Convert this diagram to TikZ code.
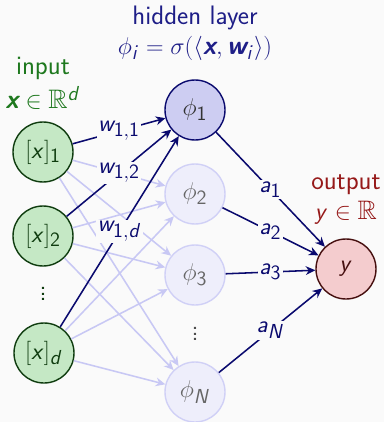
\documentclass[tikz,border=0pt]{standalone}
\usepackage{amssymb}
\usetikzlibrary{arrows.meta}

% sans-serif math letters and digits
\DeclareSymbolFont{sfletters}{OT1}{cmss}{m}{sl}
\DeclareSymbolFont{sfdigits}{OT1}{cmss}{m}{n}
\DeclareMathSymbol{a}{\mathalpha}{sfletters}{`a}
\DeclareMathSymbol{d}{\mathalpha}{sfletters}{`d}
\DeclareMathSymbol{i}{\mathalpha}{sfletters}{`i}
\DeclareMathSymbol{w}{\mathalpha}{sfletters}{`w}
\DeclareMathSymbol{x}{\mathalpha}{sfletters}{`x}
\DeclareMathSymbol{y}{\mathalpha}{sfletters}{`y}
\DeclareMathSymbol{N}{\mathalpha}{sfletters}{`N}
\DeclareMathSymbol{1}{\mathalpha}{sfdigits}{`1}
\DeclareMathSymbol{2}{\mathalpha}{sfdigits}{`2}
\DeclareMathSymbol{3}{\mathalpha}{sfdigits}{`3}

\definecolor{bgcol}{RGB}{250,250,250}
\definecolor{navy}{RGB}{10,10,110}
\definecolor{layernavy}{RGB}{30,30,135}
\definecolor{infill}{RGB}{197,232,197}
\definecolor{indraw}{RGB}{15,60,15}
\definecolor{intext}{RGB}{30,120,30}
\definecolor{phifill}{RGB}{205,205,242}
\definecolor{faintfill}{RGB}{238,238,251}
\definecolor{faintdraw}{RGB}{208,208,246}
\definecolor{faintedge}{RGB}{200,200,244}
\definecolor{outfill}{RGB}{244,204,206}
\definecolor{outdraw}{RGB}{70,15,15}
\definecolor{outtext}{RGB}{150,25,25}

\newcommand{\bvec}[1]{\mbox{\bfseries\itshape #1}}

\begin{document}
\begin{tikzpicture}[
    x=0.25mm, y=-0.25mm,
    font=\fontsize{19}{22}\selectfont\sffamily,
    neuron/.style={
        circle, minimum size=15mm, inner sep=0pt, line width=1pt
    },
    innode/.style={neuron, draw=indraw, fill=infill, text=indraw},
    phinode/.style={neuron, draw=navy, fill=phifill, text=black!80},
    faintnode/.style={neuron, draw=faintdraw, fill=faintfill, text=black!60},
    outnode/.style={neuron, draw=outdraw, fill=outfill, text=outdraw},
    strong/.style={
        draw=navy, line width=1.1pt,
        -{Stealth[length=2.4mm, width=2.2mm]}
    },
    faint/.style={
        draw=faintedge, line width=1.1pt,
        -{Stealth[length=2.4mm, width=2.2mm]}
    },
    weight/.style={midway, fill=bgcol, inner sep=1pt, text=navy}
]

    % Canvas ===========================
    \fill[bgcol] (0,0) rectangle (384,422);
    \useasboundingbox (0,0) rectangle (384,422);

    % Titles ===========================
    \node[text=layernavy] (hidtitle) at (195,18) {hidden layer};
    \node[text=layernavy] (hidrule) at (195,48) {$\phi_i = \sigma(\langle \bvec{x}, \bvec{w}_i \rangle)$};
    \node[text=intext] (intitle) at (43,68) {input};
    \node[text=intext] (inspace) at (43,98) {$\bvec{x} \in \mathbb{R}^d$};
    \node[text=outtext] (outtitle) at (346,185) {output};
    \node[text=outtext] (outspace) at (346,213) {$y \in \mathbb{R}$};

    % Neurons ===========================
    \node[innode] (x1) at (43,152) {$[x]_1$};
    \node[innode] (x2) at (43,236) {$[x]_2$};
    \node[text=indraw] (xdots) at (43,290) {$\vdots$};
    \node[innode] (xd) at (44,353) {$[x]_d$};

    \node[phinode] (phi1) at (195,110) {$\phi_1$};
    \node[faintnode] (phi2) at (195,194) {$\phi_2$};
    \node[faintnode] (phi3) at (195,275) {$\phi_3$};
    \node[text=black!70] (phidots) at (195,330) {$\vdots$};
    \node[faintnode] (phiN) at (195,392) {$\phi_N$};

    \node[outnode] (out) at (346,269) {$y$};

    % Faint connections ====================
    \foreach \i in {x1, x2, xd}
        \foreach \j in {phi2, phi3, phiN}
            \draw[faint] (\i) -- (\j);

    % Weights into the first neuron ====================
    \draw[strong] (x1) -- (phi1) node[weight] {$w_{1,1}$};
    \draw[strong] (x2) -- (phi1) node[weight] {$w_{1,2}$};
    \draw[strong] (xd) -- (phi1) node[weight] {$w_{1,d}$};

    % Output weights ====================
    \draw[strong] (phi1) -- (out) node[weight] {$a_1$};
    \draw[strong] (phi2) -- (out) node[weight] {$a_2$};
    \draw[strong] (phi3) -- (out) node[weight] {$a_3$};
    \draw[strong] (phiN) -- (out) node[weight] {$a_N$};

\end{tikzpicture}
\end{document}
